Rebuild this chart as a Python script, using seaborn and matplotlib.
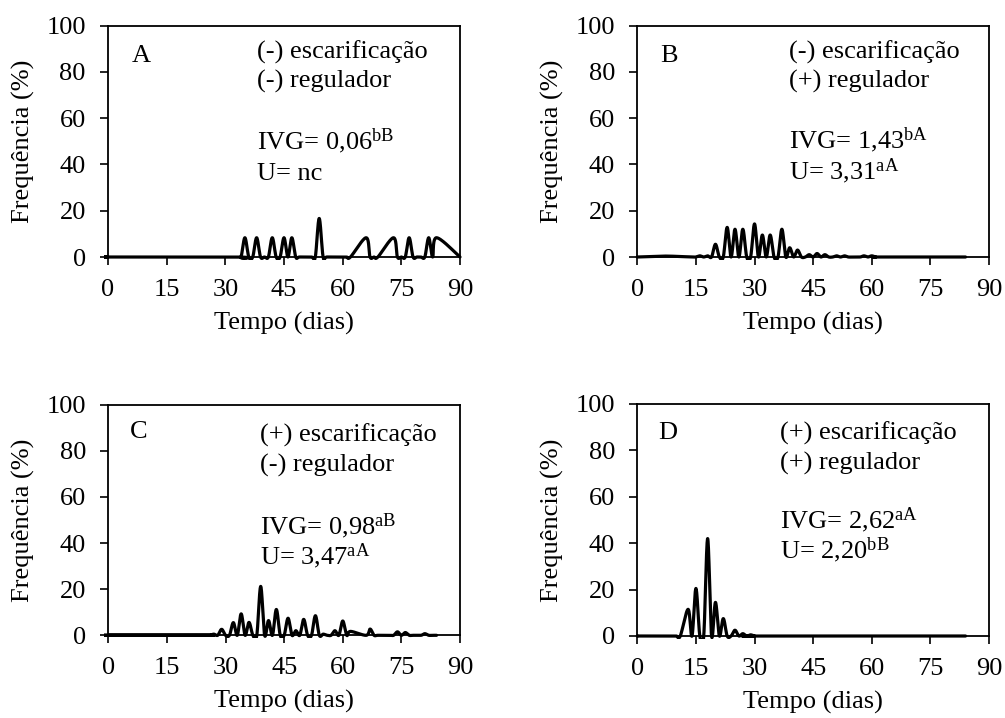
import numpy as np
import matplotlib
matplotlib.use("Agg")
import matplotlib.pyplot as plt
from matplotlib.patches import Rectangle
import seaborn as sns

# ---------------- data (day, germination frequency %) ----------------
days_A = [0, 1, 33, 34, 35, 36, 37, 38, 39, 40, 41, 42, 43, 44, 45, 46, 47, 48, 49,
          52, 53, 54, 55, 56, 60, 61, 62, 66, 67, 68, 69, 73, 74, 75, 76, 77, 78,
          79, 80, 81, 82, 83, 84, 90]
freq_A = [0, 0, 0, 0, 8.33, 0, 0, 8.33, 0, 0, 0, 8.33, 0, 0, 8.33, 0, 8.33, 0, 0,
          0, 0, 16.67, 0, 0, 0, 0, 0, 8.33, 0, 0, 0, 8.33, 0, 0, 0, 8.33, 0,
          0, 0, 0, 8.33, 0, 8.33, 0]

days_B = [0, 7, 14, 15, 16, 17, 18, 19, 20, 21, 22, 23, 24, 25, 26, 27, 28, 29, 30,
          31, 32, 33, 34, 35, 36, 37, 38, 39, 40, 41, 42, 43, 44, 45, 46, 47, 48,
          49, 50, 51, 52, 53, 54, 55, 57, 58, 59, 60, 61, 62, 84]
freq_B = [0, 0.4, 0, 0, 0.5, 0, 0.5, 0, 5.5, 0, 0, 12.8, 0, 12, 0, 12, 0, 0, 14.3,
          0, 9.5, 0, 9.5, 0, 0, 12, 0, 4, 0, 3, 0, 0, 1, 0, 1.5, 0, 1,
          0, 0, 0.5, 0, 0.5, 0, 0, 0, 0.5, 0, 0.5, 0, 0, 0]

days_C = [0, 1, 25, 26, 27, 28, 29, 30, 31, 32, 33, 34, 35, 36, 37, 38, 39, 40, 41,
          42, 43, 44, 45, 46, 47, 48, 49, 50, 51, 52, 53, 54, 55, 56, 57, 58, 59,
          60, 61, 62, 66, 67, 68, 69, 72, 73, 74, 75, 76, 77, 78, 80, 81, 82, 83, 84]
freq_C = [0, 0, 0, 0, 0.5, 0, 2.6, 0, 0, 5.5, 0, 9.3, 0, 5.6, 0, 0, 21.2, 0, 6.4,
          0, 11.2, 0, 0, 7.4, 0, 2, 0, 6.9, 0, 0, 8.5, 0, 0.5, 0, 0, 2, 0,
          6.2, 0, 1.7, 0, 2.7, 0, 0, 0, 0, 1.5, 0, 1.2, 0, 0, 0, 0.7, 0, 0, 0]

days_D = [0, 1, 9, 10, 11, 13, 14, 15, 16, 17, 18, 19, 20, 21, 22, 23, 24, 25, 26,
          27, 28, 29, 30, 31, 84]
freq_D = [0, 0, 0, 0, 0, 11.5, 0, 20.5, 0, 0, 42, 0, 14.5, 0, 7.5, 0, 0, 2.5, 0,
          1, 0, 0.5, 0, 0, 0]

panel_letters = ["A", "B", "C", "D"]
line1 = ["(-) escarificação", "(-) escarificação", "(+) escarificação", "(+) escarificação"]
line2 = ["(-) regulador", "(+) regulador", "(-) regulador", "(+) regulador"]
ivg_vals = ["0,06", "1,43", "0,98", "2,62"]
ivg_sup = ["bB", "bA", "aB", "aA"]
u_vals = ["nc", "3,31", "3,47", "2,20"]
u_sup = ["", "aA", "aA", "bB"]

x_ticks = [0, 15, 30, 45, 60, 75, 90]
y_ticks = [0, 20, 40, 60, 80, 100]
x_label = "Tempo (dias)"
y_label = "Frequência (%)"


def smooth_line(xs, ys, n=30):
    """Excel-style smoothed line rendering (Catmull-Rom Bezier through the points)."""
    P = np.column_stack([xs, ys]).astype(float)
    m = len(P)
    out = [P[0]]
    t = np.linspace(0, 1, n)[1:, None]
    for i in range(m - 1):
        p0 = P[i - 1] if i > 0 else P[i]
        p1, p2 = P[i], P[i + 1]
        p3 = P[i + 2] if i + 2 < m else P[i + 1]
        c1 = p1 + (p2 - p0) / 6.0
        c2 = p2 - (p3 - p1) / 6.0
        seg = (1 - t) ** 3 * p1 + 3 * (1 - t) ** 2 * t * c1 + 3 * (1 - t) * t ** 2 * c2 + t ** 3 * p2
        out.extend(seg)
    out = np.array(out)
    return out[:, 0], out[:, 1]


sns.set_style("ticks")
plt.rcParams["font.family"] = ["Liberation Serif", "DejaVu Serif"]
plt.rcParams["mathtext.fontset"] = "custom"
plt.rcParams["mathtext.rm"] = "Liberation Serif"
plt.rcParams["mathtext.it"] = "Liberation Serif:italic"
plt.rcParams["mathtext.bf"] = "Liberation Serif:bold"
for key in ["text.color", "axes.labelcolor", "xtick.color", "ytick.color", "axes.edgecolor"]:
    plt.rcParams[key] = "black"

FS = 19

fig = plt.figure(figsize=(10.05, 7.18), dpi=100)
W, H = 1005.0, 718.0
# (left px, x-axis px, right px, top px)
boxes = [(108.0, 257.0, 460.0, 25.7),
         (637.3, 257.0, 989.0, 25.7),
         (108.3, 635.3, 460.0, 404.7),
         (637.3, 636.0, 989.0, 404.0)]

datasets = [(days_A, freq_A), (days_B, freq_B), (days_C, freq_C), (days_D, freq_D)]

letter_pos = [(6.1, 84.4), (5.8, 84.4), (5.6, 85.4), (5.4, 84.8)]
text_x = [38.2, 38.7, 38.7, 36.5]
baselines = [(85.9, 73.4, 46.7, 33.3),
             (85.9, 73.4, 46.9, 33.6),
             (83.9, 70.9, 43.9, 30.8),
             (84.8, 71.8, 46.4, 33.5)]

for k in range(4):
    l, b, r, t_ = boxes[k]
    ax = fig.add_axes([l / W, (H - b) / H, (r - l) / W, (b - t_) / H])
    dx, dy = datasets[k]
    assert len(dx) == len(dy)
    xs, ys = smooth_line(dx, dy)
    sns.lineplot(x=xs, y=ys, sort=False, estimator=None, color="black",
                 linewidth=2.3, ax=ax)
    clip = Rectangle((-1, -1.3), 92, 102, transform=ax.transData)
    for ln in ax.lines:
        ln.set_clip_path(clip)
    ax.set_xlim(0, 90)
    ax.set_ylim(0, 100)
    ax.set_xticks(x_ticks)
    ax.set_yticks(y_ticks)
    ax.tick_params(axis="both", labelsize=FS, length=5.5, width=1.2,
                   direction="out", color="black", labelcolor="black")
    ax.tick_params(axis="y", pad=10.5)
    ax.tick_params(axis="x", pad=10)
    for sp in ax.spines.values():
        sp.set_visible(True)
        sp.set_linewidth(1.3)
        sp.set_color("black")
    ax.set_xlabel(x_label, fontsize=FS, labelpad=8, color="black")
    ax.set_ylabel(y_label, fontsize=FS, labelpad=8, color="black")

    lx, ly = letter_pos[k]
    ax.text(lx, ly, panel_letters[k], fontsize=FS, va="baseline", ha="left")
    tx = text_x[k]
    b1, b2, b3, b4 = baselines[k]
    ax.text(tx, b1, line1[k], fontsize=FS, va="baseline", ha="left")
    ax.text(tx, b2, line2[k], fontsize=FS, va="baseline", ha="left")
    ax.text(tx, b3, "IVG= " + ivg_vals[k] + r"$^{\mathrm{" + ivg_sup[k] + "}}$",
            fontsize=FS, va="baseline", ha="left")
    utxt = "U= " + u_vals[k]
    if u_sup[k]:
        utxt += r"$^{\mathrm{" + u_sup[k] + "}}$"
    ax.text(tx, b4, utxt, fontsize=FS, va="baseline", ha="left")

fig.savefig("out.png", dpi=100)
